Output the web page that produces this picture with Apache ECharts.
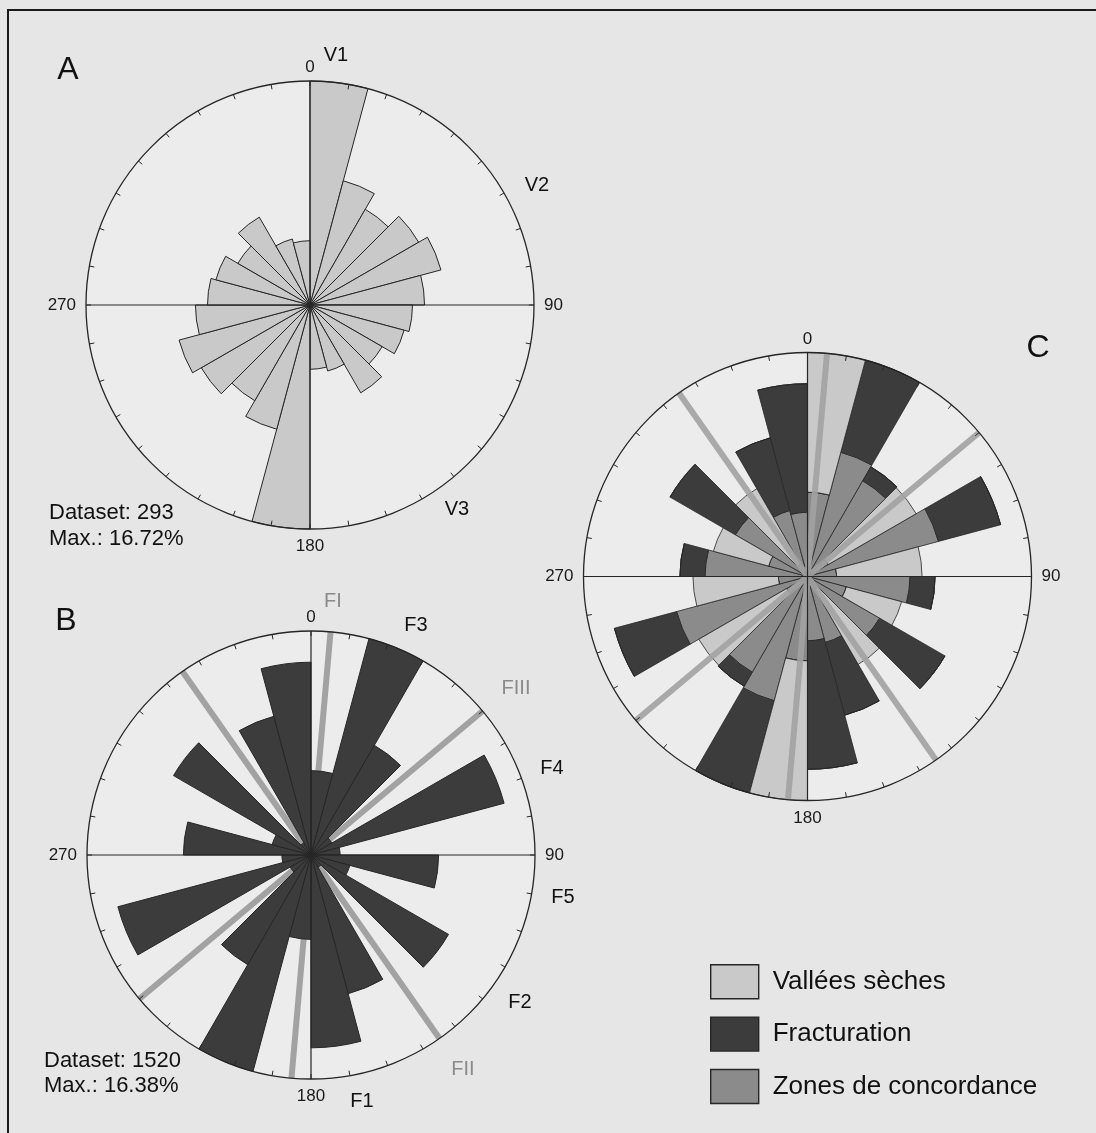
<!DOCTYPE html>
<html>
<head>
<meta charset="utf-8">
<script src="https://cdn.jsdelivr.net/npm/echarts@6/dist/echarts.min.js"></script>
<style>
html,body{margin:0;padding:0;background:#e6e6e6;}
#container{width:1096px;height:1133px;}
</style>
</head>
<body>
<div id="container"></div>
<script>
// 15 degree bins, clockwise from north
var binStarts = ['0','15','30','45','60','75','90','105','120','135','150','165',
                 '180','195','210','225','240','255','270','285','300','315','330','345'];

// A : vallees seches (%), Max.: 16.72%
var vallees = [16.72, 9.60, 8.25, 9.37, 10.12, 8.55, 7.65, 7.27, 6.22, 7.57, 5.10, 4.80,
               16.72, 9.60, 8.25, 9.37, 10.12, 8.55, 7.65, 7.27, 6.22, 7.57, 5.10, 4.80];
var valleesMax = 16.72;

// B : fracturation (%), Max.: 16.38%
var fracturation = [6.17, 16.38, 9.26, 1.76, 14.62, 2.13, 9.33, 2.94, 11.61, 1.03, 10.50, 14.10,
                    6.17, 16.38, 9.26, 1.76, 14.62, 2.13, 9.33, 2.94, 11.61, 1.03, 10.50, 14.10];
var fracturationMax = 16.38;

// fracture families FI, FIII, FII (azimuth)
var familyAngles = [5, 50, 145];
var crossAngles = [0, 90];

var dom = document.getElementById('container');
var myChart = echarts.init(dom);
var R = 224;
var centers = [[310, 305], [311, 855], [807.5, 576.5]];
var FONT = '"Liberation Sans", Arial, sans-serif';
var LIGHT = '#c9c9c9', DARK = '#3c3c3c', MID = '#8b8b8b', FLINE = '#a2a2a2', EDGE = '#262626';

// C : overlay of A and B, each scaled to its own max
var concordance = [], fracOnly = [], valOnly = [];
for (var i = 0; i < binStarts.length; i++) {
    var v = vallees[i] / valleesMax, f = fracturation[i] / fracturationMax;
    concordance.push(Math.min(v, f));
    fracOnly.push(Math.max(0, f - v));
    valOnly.push(Math.max(0, v - f));
}

function diameters(angles, r) {
    var d = [];
    angles.forEach(function (a, k) {
        if (k > 0) d.push(['-', '-']);
        d.push([r, a]);
        d.push([r, a + 180]);
    });
    return d;
}

var labelKey = {0: 't', 90: 'r', 180: 'b', 270: 'l'};
var polar = [], angleAxis = [], radiusAxis = [];
centers.forEach(function (c, k) {
    polar.push({center: c, radius: R});
    polar.push({center: c, radius: R});
    angleAxis.push({
        polarIndex: 2 * k, type: 'category', data: binStarts, startAngle: 90, clockwise: true,
        boundaryGap: true, z: 0,
        axisLine: {show: false}, axisTick: {show: false}, axisLabel: {show: false},
        splitLine: {show: false},
        splitArea: {show: true, areaStyle: {color: ['#ececec']}}
    });
    angleAxis.push({
        polarIndex: 2 * k + 1, type: 'value', min: 0, max: 360, interval: 10,
        startAngle: 90, clockwise: true, z: 10,
        axisLine: {show: true, lineStyle: {color: EDGE, width: 1.3}},
        axisTick: {show: true, inside: true, length: 5, lineStyle: {color: EDGE, width: 1}},
        splitLine: {show: false},
        axisLabel: {
            margin: 5, fontSize: 17, color: '#1a1a1a', fontFamily: FONT,
            formatter: function (val) {
                return labelKey[val] ? '{' + labelKey[val] + '|' + val + '}' : '';
            },
            rich: {
                t: {fontSize: 17, fontFamily: FONT, color: '#1a1a1a'},
                r: {fontSize: 17, fontFamily: FONT, color: '#1a1a1a', padding: [0, 0, 0, 5]},
                b: {fontSize: 17, fontFamily: FONT, color: '#1a1a1a', padding: [4, 0, 0, 0]},
                l: {fontSize: 17, fontFamily: FONT, color: '#1a1a1a', padding: [0, 5, 0, 0]}
            }
        }
    });
    radiusAxis.push({polarIndex: 2 * k, type: 'value', min: 0,
        max: [valleesMax, fracturationMax, 1][k], show: false});
    radiusAxis.push({polarIndex: 2 * k + 1, type: 'value', min: 0, max: 1, show: false});
});

var barBase = {type: 'bar', coordinateSystem: 'polar', barCategoryGap: '0%', silent: true, z: 2};
function bar(o) { return Object.assign({}, barBase, o); }
function line(o) {
    return Object.assign({type: 'line', coordinateSystem: 'polar', symbol: 'none', clip: false,
        silent: true, connectNulls: false}, o);
}

var series = [
    bar({name: 'Vallées sèches', polarIndex: 0, data: vallees,
         itemStyle: {color: LIGHT, borderColor: EDGE, borderWidth: 1}}),
    bar({name: 'Fracturation', polarIndex: 2, data: fracturation,
         itemStyle: {color: DARK, borderColor: EDGE, borderWidth: 1}}),
    bar({name: 'Zones de concordance', polarIndex: 4, stack: 'c', data: concordance,
         itemStyle: {color: MID, borderColor: EDGE, borderWidth: 0.8}}),
    bar({name: 'Fracturation', polarIndex: 4, stack: 'c', data: fracOnly,
         itemStyle: {color: DARK, borderColor: EDGE, borderWidth: 0.8}}),
    bar({name: 'Vallées sèches', polarIndex: 4, stack: 'c', data: valOnly,
         itemStyle: {color: LIGHT, borderColor: EDGE, borderWidth: 0.8}}),
    // fracture family lines: under the bars in B, over them in C
    line({polarIndex: 3, z: 1, data: diameters(familyAngles, 1.07),
          lineStyle: {color: FLINE, width: 6, cap: 'butt'}}),
    line({polarIndex: 5, z: 3, data: diameters(familyAngles, 1.07),
          lineStyle: {color: FLINE, width: 6, cap: 'butt', opacity: 0.9}})
];
[1, 3, 5].forEach(function (p) {
    series.push(line({polarIndex: p, z: 5, data: diameters(crossAngles, 1.03),
        lineStyle: {color: EDGE, width: 1.2}}));
});

function txt(s, x, y, size, color, align) {
    return {type: 'text', z: 20, silent: true, style: {
        text: s, x: x, y: y, fill: color || '#111', font: size + 'px ' + FONT,
        textAlign: align || 'center', textVerticalAlign: 'middle'}};
}
var GRAY = '#8a8a8a';
var graphics = [
    {type: 'rect', z: 30, silent: true, shape: {x: 8, y: 10, width: 1100, height: 1140},
     style: {fill: null, stroke: '#1a1a1a', lineWidth: 2}},
    txt('A', 68, 70, 32), txt('B', 66, 621, 32), txt('C', 1038, 348, 32),
    txt('V1', 336, 55, 20), txt('V2', 537, 185, 20), txt('V3', 457, 509, 20),
    txt('FI', 333, 601, 20, GRAY), txt('F3', 416, 625, 20), txt('FIII', 516, 688, 20, GRAY),
    txt('F4', 552, 768, 20), txt('F5', 563, 897, 20), txt('F2', 520, 1002, 20),
    txt('FII', 463, 1069, 20, GRAY), txt('F1', 362, 1101, 20),
    txt('Dataset: 293', 49, 513, 22, '#111', 'left'), txt('Max.: 16.72%', 49, 539, 22, '#111', 'left'),
    txt('Dataset: 1520', 44, 1061, 22, '#111', 'left'), txt('Max.: 16.38%', 44, 1086, 22, '#111', 'left')
];

var option = {
    backgroundColor: '#e6e6e6',
    animation: false,
    polar: polar,
    angleAxis: angleAxis,
    radiusAxis: radiusAxis,
    legend: {
        data: ['Vallées sèches', 'Fracturation', 'Zones de concordance'],
        orient: 'vertical', left: 705, top: 959, itemWidth: 48, itemHeight: 34, itemGap: 17,
        icon: 'rect', selectedMode: false,
        itemStyle: {borderColor: EDGE, borderWidth: 1.4},
        textStyle: {fontSize: 26, color: '#111', fontFamily: FONT, padding: [0, 0, 0, 9]}
    },
    graphic: graphics,
    series: series
};
myChart.setOption(option);
</script>
</body>
</html>
